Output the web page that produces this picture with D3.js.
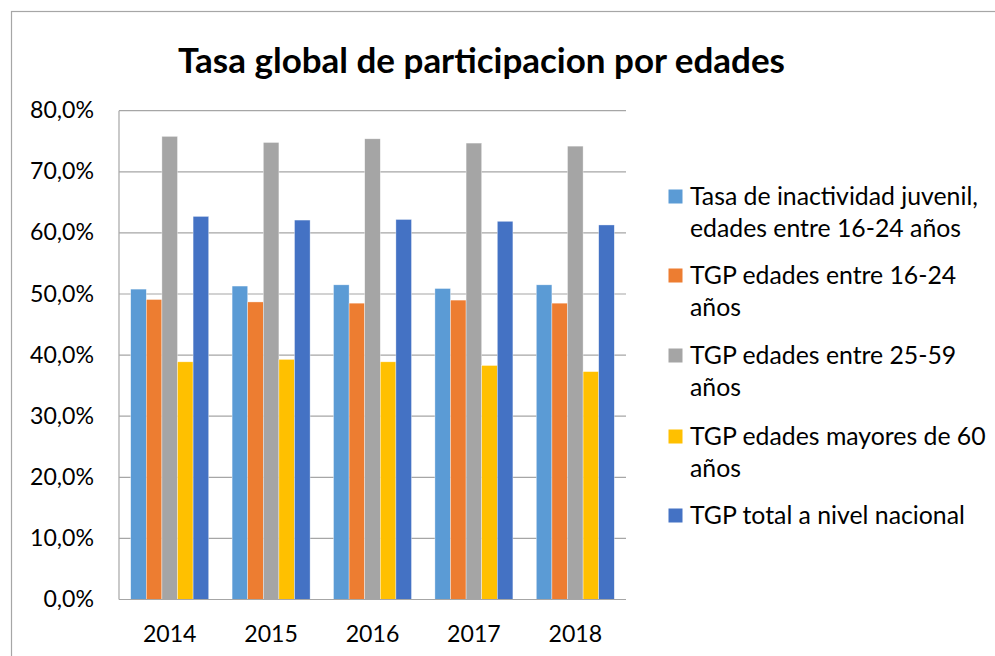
<!DOCTYPE html>
<html>
<head>
<meta charset="utf-8">
<script src="https://cdn.jsdelivr.net/npm/d3@7"></script>
<style>
  html, body { margin: 0; padding: 0; background: #fff; }
  svg { display: block; }
</style>
</head>
<body>
<svg id="chart" width="995" height="656"></svg>
<script>
// ---- Data ----
const years = ["2014", "2015", "2016", "2017", "2018"];
const seriesNames = [
  "Tasa de inactividad juvenil, edades entre 16-24 años",
  "TGP edades entre 16-24 años",
  "TGP edades entre 25-59 años",
  "TGP edades mayores de 60 años",
  "TGP total a nivel nacional"
];
const legendLines = [
  ["Tasa de inactividad juvenil,", "edades entre 16-24 años"],
  ["TGP edades entre 16-24", "años"],
  ["TGP edades entre 25-59", "años"],
  ["TGP edades mayores de 60", "años"],
  ["TGP total a nivel nacional"]
];
const inactividadJuvenil = [50.8, 51.3, 51.5, 50.9, 51.5];
const tgp16a24 = [49.1, 48.7, 48.5, 49.0, 48.5];
const tgp25a59 = [75.8, 74.8, 75.4, 74.7, 74.2];
const tgpMayores60 = [38.9, 39.3, 38.9, 38.3, 37.3];
const tgpTotal = [62.7, 62.1, 62.2, 61.9, 61.3];
const yTicks = [0, 10, 20, 30, 40, 50, 60, 70, 80];
const colors = ["#5B9BD5", "#ED7D31", "#A5A5A5", "#FFC000", "#4472C4"];
const titleText = "Tasa global de participacion por edades";

const seriesValues = [inactividadJuvenil, tgp16a24, tgp25a59, tgpMayores60, tgpTotal];

// ---- Layout ----
const svg = d3.select("#chart");
const FONT = "Lato, 'Open Sans', sans-serif";
const plot = { left: 119, right: 626, top: 110.7, bottom: 599.5 };

function fitSize(text, weight, target) {
  const t = svg.append("text").attr("font-family", FONT).attr("font-weight", weight)
    .attr("font-size", 100).text(text);
  const w = t.node().getComputedTextLength();
  t.remove();
  return 100 * target / w;
}

const titleSize = fitSize(titleText, "bold", 607);
const tickSize = fitSize("80,0%", "normal", 64);
const legendSize = fitSize("Tasa de inactividad juvenil,", "normal", 288);

// chart border
svg.append("rect")
  .attr("x", 11.5).attr("y", 11.5).attr("width", 1100).attr("height", 800)
  .attr("fill", "none").attr("stroke", "#A6A6A6").attr("stroke-width", 1.2);

// title
svg.append("text")
  .attr("x", 481.5).attr("y", 73)
  .attr("text-anchor", "middle")
  .attr("font-family", FONT).attr("font-weight", "bold")
  .attr("font-size", titleSize).attr("fill", "#000")
  .text(titleText);

// scales
const gap = 0.2308;
const x0 = d3.scaleBand().domain(years).range([plot.left, plot.right])
  .paddingInner(gap).paddingOuter(gap / 2);
const x1 = d3.scaleBand().domain(d3.range(seriesNames.length)).range([0, x0.bandwidth()]);
const y = d3.scaleLinear().domain([0, 80]).range([plot.bottom, plot.top]);

// gridlines
svg.append("g").selectAll("line").data(yTicks).join("line")
  .attr("x1", plot.left).attr("x2", plot.right)
  .attr("y1", d => y(d)).attr("y2", d => y(d))
  .attr("stroke", "#A6A6A6").attr("stroke-width", 1.2);

// left axis line
svg.append("line")
  .attr("x1", plot.left).attr("x2", plot.left)
  .attr("y1", plot.top).attr("y2", plot.bottom)
  .attr("stroke", "#A6A6A6").attr("stroke-width", 1.2);

// bars
const groups = svg.append("g").selectAll("g").data(years).join("g")
  .attr("transform", d => `translate(${x0(d)},0)`);
groups.selectAll("rect")
  .data((d, i) => seriesValues.map((vals, s) => ({ s, v: vals[i] })))
  .join("rect")
  .attr("x", d => x1(d.s))
  .attr("width", x1.bandwidth())
  .attr("y", d => y(d.v))
  .attr("height", d => y(0) - y(d.v))
  .attr("fill", d => colors[d.s])
  .attr("stroke", "#ffffff").attr("stroke-opacity", 0.6).attr("stroke-width", 0.6);

// bottom axis line
svg.append("line")
  .attr("x1", plot.left).attr("x2", plot.right)
  .attr("y1", y(0)).attr("y2", y(0))
  .attr("stroke", "#A6A6A6").attr("stroke-width", 1.2);

// y tick labels
const fmt = v => v.toFixed(1).replace(".", ",") + "%";
svg.append("g").selectAll("text").data(yTicks).join("text")
  .attr("x", 94).attr("y", d => y(d) + 7.5)
  .attr("text-anchor", "end")
  .attr("font-family", FONT).attr("font-size", tickSize).attr("fill", "#000")
  .text(d => fmt(d));

// x labels
svg.append("g").selectAll("text").data(years).join("text")
  .attr("x", d => x0(d) + x0.bandwidth() / 2).attr("y", 641.5)
  .attr("text-anchor", "middle")
  .attr("font-family", FONT).attr("font-size", tickSize).attr("fill", "#000")
  .text(d => d);

// legend
const legendStarts = [205, 284, 364, 445, 524];
const leg = svg.append("g").selectAll("g").data(legendLines).join("g");
leg.append("rect")
  .attr("x", 668.5).attr("y", (d, i) => legendStarts[i] - 15.5)
  .attr("width", 14).attr("height", 14)
  .attr("fill", (d, i) => colors[i]);
leg.each(function(lines, i) {
  d3.select(this).selectAll("text").data(lines).join("text")
    .attr("x", 690).attr("y", (l, j) => legendStarts[i] + j * 32)
    .attr("font-family", FONT).attr("font-size", legendSize).attr("fill", "#000")
    .text(l => l);
});
</script>
</body>
</html>
